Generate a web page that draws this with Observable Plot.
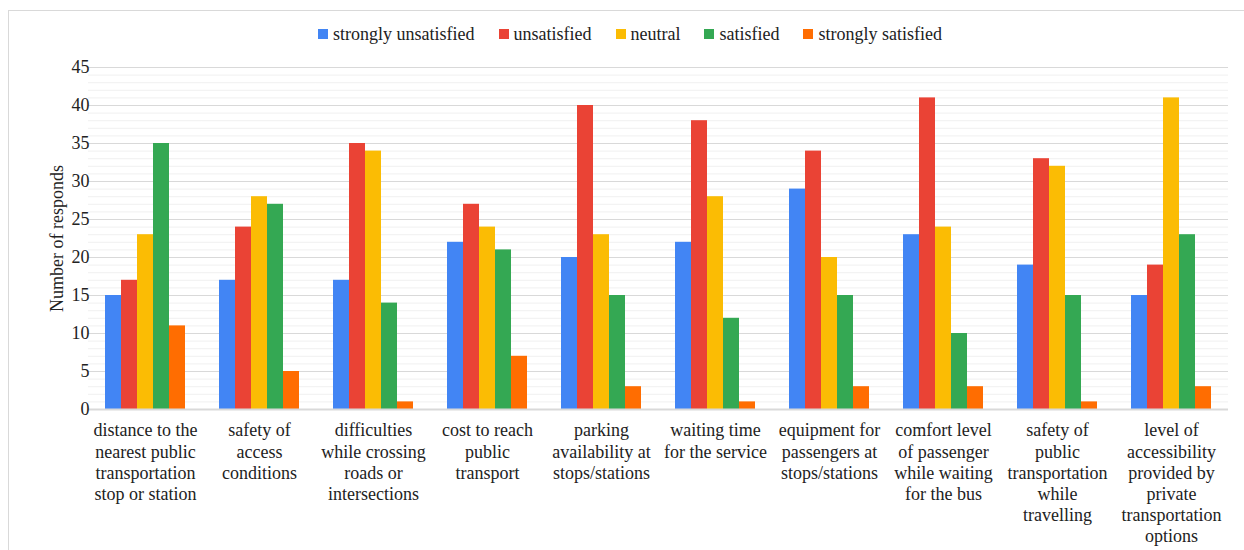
<!DOCTYPE html>
<html>
<head>
<meta charset="utf-8">
<script src="https://cdn.jsdelivr.net/npm/d3@7"></script>
<script src="https://cdn.jsdelivr.net/npm/@observablehq/plot@0.6"></script>
<style>
  body { margin: 0; background: #fff; font-family: "Liberation Serif", "Times New Roman", serif; }
  #wrap { position: relative; width: 1244px; height: 550px; overflow: hidden; }
  #frame { position: absolute; left: 8px; top: 10px; width: 1250px; height: 600px; border: 1px solid #d9d9d9; box-sizing: border-box; pointer-events: none; }
  #legend { height: 58px; display: flex; justify-content: center; align-items: center; gap: 0 24px; font-size: 18px; color: #222; padding-top: 10px; box-sizing: border-box; padding-left: 16px; }
  #legend .item { display: flex; align-items: center; }
  #legend .sw { width: 10px; height: 10px; margin-right: 5px; display: inline-block; }
</style>
</head>
<body>
<div id="wrap">
  <div id="frame"></div>
  <div id="legend"></div>
  <div id="chart"></div>
</div>
<script>
const categories = [
  "distance to the nearest public transportation stop or station",
  "safety of access conditions",
  "difficulties while crossing roads or intersections",
  "cost to reach public transport",
  "parking availability at stops/stations",
  "waiting time for the service",
  "equipment for passengers at stops/stations",
  "comfort level of passenger while waiting for the bus",
  "safety of public transportation while travelling",
  "level of accessibility provided by private transportation options"
];
const categoryLabels = [
  "distance to the\nnearest public\ntransportation\nstop or station",
  "safety of\naccess\nconditions",
  "difficulties\nwhile crossing\nroads or\nintersections",
  "cost to reach\npublic\ntransport",
  "parking\navailability at\nstops/stations",
  "waiting time\nfor the service",
  "equipment for\npassengers at\nstops/stations",
  "comfort level\nof passenger\nwhile waiting\nfor the bus",
  "safety of\npublic\ntransportation\nwhile\ntravelling",
  "level of\naccessibility\nprovided by\nprivate\ntransportation\noptions"
];
const series = ["strongly unsatisfied", "unsatisfied", "neutral", "satisfied", "strongly satisfied"];
const colors = ["#4285F4", "#EA4335", "#FBBC04", "#34A853", "#FF6D01"];

const stronglyUnsatisfied = [15, 17, 17, 22, 20, 22, 29, 23, 19, 15];
const unsatisfied         = [17, 24, 35, 27, 40, 38, 34, 41, 33, 19];
const neutral             = [23, 28, 34, 24, 23, 28, 20, 24, 32, 41];
const satisfied           = [35, 27, 14, 21, 15, 12, 15, 10, 15, 23];
const stronglySatisfied   = [11,  5,  1,  7,  3,  1,  3,  3,  1,  3];

const yTicks = [0, 5, 10, 15, 20, 25, 30, 35, 40, 45];
const yMinorTicks = d3.range(0, 46, 1);

const valuesBySeries = [stronglyUnsatisfied, unsatisfied, neutral, satisfied, stronglySatisfied];
const data = [];
categories.forEach((c, i) => {
  series.forEach((s, j) => data.push({category: c, series: s, value: valuesBySeries[j][i]}));
});
const labelOf = new Map(categories.map((c, i) => [c, categoryLabels[i]]));

// legend
const legend = document.getElementById("legend");
series.forEach((s, j) => {
  const it = document.createElement("div");
  it.className = "item";
  it.innerHTML = `<span class="sw" style="background:${colors[j]}"></span><span>${s}</span>`;
  legend.appendChild(it);
});

// facet gap half-width so grid lines join across facets
const W = 1244, ML = 87, MR = 15;
const step = (W - ML - MR) / 10;
const ext = -(step * 0.14);

const chart = Plot.plot({
  width: W,
  height: 492,
  marginLeft: ML,
  marginRight: MR,
  marginTop: 9,
  marginBottom: 141,
  style: {fontFamily: "'Liberation Serif', 'Times New Roman', serif", fontSize: "18px", color: "#222", background: "transparent"},
  fx: {domain: categories, paddingInner: 0.28, paddingOuter: 0.14, label: null, axis: null},
  x: {domain: series, padding: 0, axis: null},
  y: {domain: [0, 45], label: null, axis: null},
  color: {domain: series, range: colors},
  marks: [
    Plot.ruleY(yMinorTicks, {stroke: "#f0f0f0", strokeWidth: 1, insetLeft: ext, insetRight: ext}),
    Plot.ruleY(yTicks, {stroke: "#d9d9d9", strokeWidth: 1.2, insetLeft: ext, insetRight: ext}),
    Plot.barY(data, {fx: "category", x: "series", y: "value", fill: "series"}),
    Plot.ruleY([0], {stroke: "#d9d9d9", strokeWidth: 2, insetLeft: ext, insetRight: ext}),
    Plot.axisY(yTicks, {anchor: "left", tickSize: 0, tickPadding: 15, label: null, fontSize: 18}),
    Plot.axisFx({anchor: "bottom", tickSize: 0, tickPadding: 12, label: null, tickFormat: d => labelOf.get(d), lineHeight: 1.17, fontSize: 18, lineAnchor: "top"}),
    Plot.text(["Number of responds"], {frameAnchor: "left", dx: -47, rotate: -90, textAnchor: "middle", lineAnchor: "middle", fontSize: 18, facet: "super"})
  ]
});
document.getElementById("chart").appendChild(chart);
</script>
</body>
</html>
